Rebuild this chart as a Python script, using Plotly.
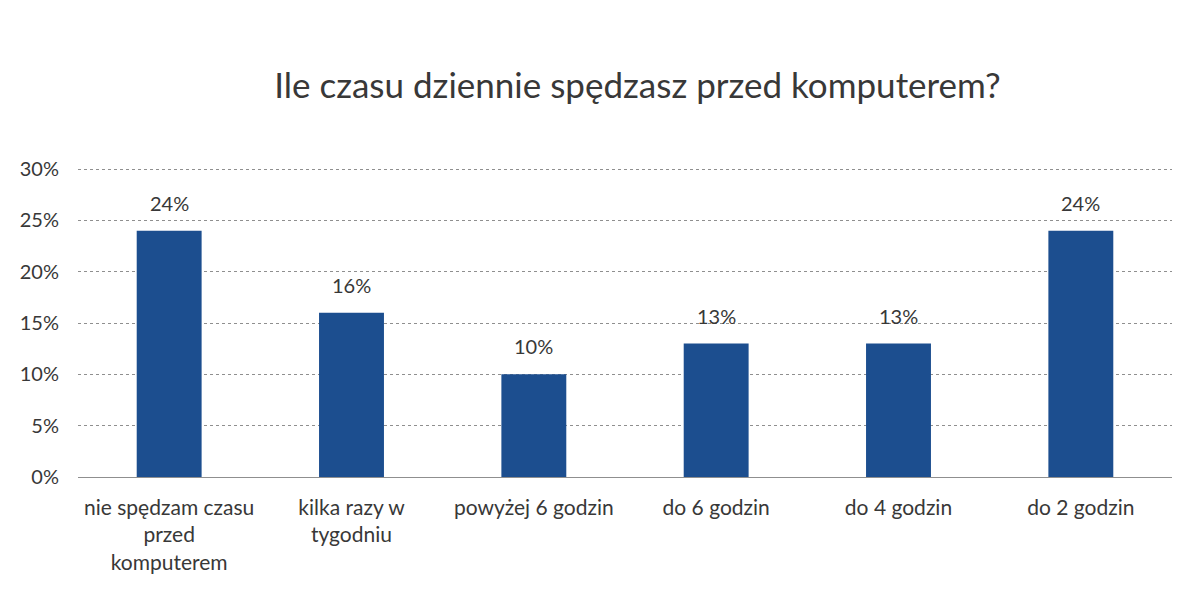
import plotly.graph_objects as go

TITLE = "Ile czasu dziennie spędzasz przed komputerem?"
CATEGORIES = [
    "nie spędzam czasu<br>przed<br>komputerem",
    "kilka razy w<br>tygodniu",
    "powyżej 6 godzin",
    "do 6 godzin",
    "do 4 godzin",
    "do 2 godzin",
]
SHARES = [0.24, 0.16, 0.10, 0.13, 0.13, 0.24]
TICK_VALUES = [0, 0.05, 0.10, 0.15, 0.20, 0.25, 0.30]

BAR_COLOR = "#1c4e8f"
TEXT_COLOR = "#383838"
GRID_COLOR = "#8f8f8f"
FONT = "Lato, 'Open Sans', sans-serif"

fig = go.Figure(
    go.Bar(
        x=CATEGORIES,
        y=SHARES,
        marker={"color": BAR_COLOR, "line": {"width": 0}},
        width=0.356,
        hoverinfo="skip",
    )
)

# value labels sit a little higher above the bars than plotly's own outside text
for cat, share in zip(CATEGORIES, SHARES):
    fig.add_annotation(
        x=cat,
        y=share,
        text=f"{share:.0%}",
        showarrow=False,
        yanchor="bottom",
        yshift=14,
        font={"size": 20, "color": TEXT_COLOR},
    )

# the page body adds an 8px offset, margins compensate for it
fig.update_layout(
    width=1199,
    height=606,
    margin={"l": 65, "r": 35, "t": 159, "b": 137},
    paper_bgcolor="white",
    plot_bgcolor="white",
    font={"family": FONT, "color": TEXT_COLOR, "size": 21},
    title={
        "text": TITLE,
        "x": 0.525,
        "xanchor": "center",
        "y": 0.872,
        "yanchor": "middle",
        "font": {"size": 35, "color": TEXT_COLOR},
    },
    showlegend=False,
    xaxis={
        "showgrid": False,
        "showline": False,
        "ticks": "",
        "ticklabelstandoff": 16,
        "tickfont": {"size": 21},
    },
    yaxis={
        # slight headroom so the 30% gridline is still drawn
        "range": [0, 0.302],
        "tickvals": TICK_VALUES,
        "tickformat": ".0%",
        "showgrid": True,
        "gridcolor": GRID_COLOR,
        "griddash": "dot",
        "gridwidth": 1,
        "zeroline": True,
        "zerolinecolor": GRID_COLOR,
        "zerolinewidth": 1,
        "showline": False,
        "ticks": "",
        "ticklabelstandoff": 18,
        "tickfont": {"size": 20},
    },
)

fig.write_html("out.html")
